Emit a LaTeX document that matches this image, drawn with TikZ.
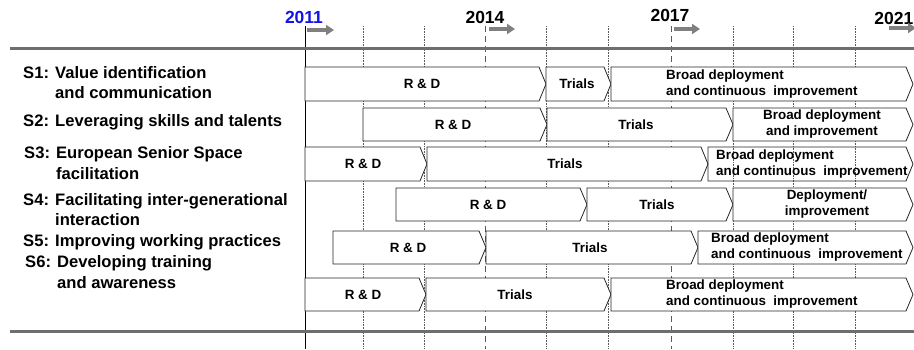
\documentclass[tikz,border=0pt]{standalone}
\usepackage{fontspec}
\setmainfont{Liberation Sans}
\usetikzlibrary{arrows.meta}
\definecolor{yearblue}{RGB}{20,20,230}
\definecolor{axisgray}{RGB}{110,110,110}
\definecolor{arrgray}{RGB}{128,128,128}
\definecolor{gridgray}{RGB}{90,90,90}
\newcommand{\pbar}[5][white]{\draw[barline,fill=#1] (#2,#4) -- ({#3-7},#4) -- (#3,{(#4+#5)/2}) -- ({#3-7},#5) -- (#2,#5) -- cycle;}
\tikzset{
  barline/.style={draw=black!85,line width=0.8pt},
  bartext/.style={font=\fontsize{13.4}{16}\selectfont\bfseries,inner sep=0pt,align=center},
  bartextl/.style={font=\fontsize{13.4}{16}\selectfont\bfseries,inner sep=0pt,align=left,anchor=west},
  lefttext/.style={font=\fontsize{16.6}{20.5}\selectfont\bfseries,inner sep=0pt,align=left,anchor=west},
  yeartext/.style={font=\fontsize{17.5}{20}\selectfont\bfseries,inner sep=0pt},
  dotgrid/.style={draw=gridgray,line width=0.6pt,dash pattern=on 0.8pt off 0.8pt},
  dashgrid/.style={draw=gridgray,line width=0.7pt,dash pattern=on 6pt off 4pt},
  axisline/.style={draw=axisgray,line width=3pt},
  yeararrow/.style={draw=arrgray,line width=4pt,-{Triangle[length=8pt,width=10pt]}},
}
\begin{document}
\begin{tikzpicture}[x=1pt,y=-1pt]
\useasboundingbox (0,0) rectangle (914,349);
% grid lines
\foreach \gx in {363,424,546,608,733,793,855}{
  \coordinate (gt\gx) at (\gx,26);
  \coordinate (gb\gx) at (\gx,349);
  \draw[dotgrid] (gt\gx) -- (gb\gx);
}
\foreach \gx in {485,671}{
  \coordinate (gt\gx) at (\gx,26);
  \coordinate (gb\gx) at (\gx,349);
  \draw[dashgrid] (gt\gx) -- (gb\gx);
}
\coordinate (st) at (305,26);
\coordinate (sb) at (305,349);
\draw[black,line width=0.9pt] (st) -- (sb);
% horizontal axis lines
\coordinate (tl) at (10,48);
\coordinate (tr) at (914,48);
\coordinate (bl) at (10,331);
\coordinate (br) at (914,331);
\draw[axisline] (tl) -- (tr);
\draw[axisline] (bl) -- (br);
% years
\node[yeartext,text=yearblue] (y2011) at (304,17) {2011};
\node[yeartext] (y2014) at (485,17.5) {2014};
\node[yeartext] (y2017) at (670,15.5) {2017};
\node[yeartext,anchor=east] (y2021) at (913.5,18) {2021};
\coordinate (a1s) at (307,30); \coordinate (a1e) at (334,30);
\coordinate (a2s) at (489,29); \coordinate (a2e) at (515,29);
\coordinate (a3s) at (674,29); \coordinate (a3e) at (700,29);
\coordinate (a4s) at (889,28); \coordinate (a4e) at (916,28);
\draw[yeararrow] (a1s) -- (a1e);
\draw[yeararrow] (a2s) -- (a2e);
\draw[yeararrow] (a3s) -- (a3e);
\draw[yeararrow] (a4s) -- (a4e);
% left labels
\node[lefttext] (s1) at (23,82.5) {S1: Value identification\\\phantom{S1: }and communication};
\node[lefttext] (s2) at (23,122) {S2: Leveraging skills and talents};
\node[lefttext] (s3) at (24,163) {S3: European Senior Space\\\phantom{S3: }facilitation};
\node[lefttext] (s4) at (23,209.5) {S4: Facilitating inter-generational\\\phantom{S4: }interaction};
\node[lefttext] (s5) at (23,242) {S5: Improving working practices};
\node[lefttext] (s6) at (25,272) {S6: Developing training\\\phantom{S6: }and awareness};
% row 1
\pbar{305}{546}{67}{101}
\pbar{546}{611}{67}{101}
\pbar{611}{913}{67}{101}
\node[bartext] (r1a) at (422,84) {R \& D};
\node[bartext] (r1b) at (577,84) {Trials};
\node[bartextl] (r1c) at (666,84) {Broad deployment\\and continuous\ \ improvement};
% row 2
\pbar{363}{547}{108}{141}
\pbar{547}{733}{108}{141}
\pbar{733}{913}{108}{141}
\node[bartext] (r2a) at (453,124.5) {R \& D};
\node[bartext] (r2b) at (636,124.5) {Trials};
\node[bartext] (r2c) at (822,124.5) {Broad deployment\\and improvement};
% row 3
\pbar{305}{427}{147}{181}
\pbar{427}{708}{147}{181}
\pbar[none]{708}{913}{147}{181}
\node[bartext] (r3a) at (363,164) {R \& D};
\node[bartext] (r3b) at (565,164) {Trials};
\node[bartextl] (r3c) at (716,164) {Broad deployment\\and continuous\ \ improvement};
% row 4
\pbar{396}{587}{188}{221}
\pbar{587}{733}{188}{221}
\pbar{733}{913}{188}{221}
\node[bartext] (r4a) at (488,204.5) {R \& D};
\node[bartext] (r4b) at (657,204.5) {Trials};
\node[bartext] (r4c) at (827,204.5) {Deployment/\\improvement};
% row 5
\pbar{333}{486}{231}{264}
\pbar{486}{698}{231}{264}
\pbar{698}{913}{231}{264}
\node[bartext] (r5a) at (408,247.5) {R \& D};
\node[bartext] (r5b) at (590,247.5) {Trials};
\node[bartextl] (r5c) at (711,247.5) {Broad deployment\\and continuous\ \ improvement};
% row 6
\pbar{305}{426}{278}{311}
\pbar{426}{611}{278}{311}
\pbar{611}{913}{278}{311}
\node[bartext] (r6a) at (363,294.5) {R \& D};
\node[bartext] (r6b) at (515,294.5) {Trials};
\node[bartextl] (r6c) at (666,294.5) {Broad deployment\\and continuous\ \ improvement};
\end{tikzpicture}
\end{document}
